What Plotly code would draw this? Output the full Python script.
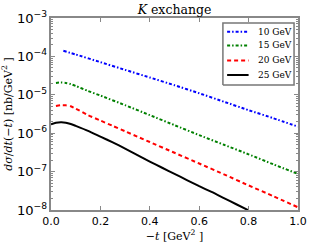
import plotly.graph_objects as go

# -t values [GeV^2] and log10(dσ/dt) values for each beam energy
t_10 = [0.05, 0.10, 0.20, 0.30, 0.40, 0.50, 0.60, 0.70, 0.80, 0.90, 1.00]
log_10 = [-3.855, -3.95, -4.15, -4.35, -4.55, -4.75, -4.96, -5.18, -5.40, -5.61, -5.83]

t_15 = [0.02, 0.04, 0.06, 0.08, 0.10, 0.15, 0.20, 0.30, 0.40, 0.50, 0.60, 0.70, 0.80, 0.90, 1.00]
log_15 = [-4.69, -4.68, -4.69, -4.72, -4.77, -4.90, -5.02, -5.27, -5.53, -5.79, -6.05, -6.30, -6.55, -6.81, -7.06]

t_20 = [0.02, 0.04, 0.06, 0.08, 0.10, 0.15, 0.20, 0.25, 0.30, 0.35, 0.40, 0.50, 0.60, 0.70, 0.80, 0.90, 1.00]
log_20 = [-5.29, -5.27, -5.275, -5.30, -5.36, -5.53, -5.67, -5.81, -5.95, -6.09, -6.23, -6.51, -6.79, -7.07, -7.36, -7.64, -7.93]

t_25 = [0.00, 0.02, 0.04, 0.06, 0.08, 0.10, 0.15, 0.20, 0.25, 0.30, 0.35, 0.40, 0.45, 0.50, 0.55, 0.60, 0.65, 0.70, 0.75, 0.80]
log_25 = [-5.77, -5.73, -5.715, -5.725, -5.76, -5.81, -5.94, -6.09, -6.24, -6.40, -6.57, -6.74, -6.90, -7.06, -7.22, -7.38, -7.53, -7.69, -7.85, -8.01]

labels = ["10 GeV", "15 GeV", "20 GeV", "25 GeV"]
colors = ["#0000ff", "#008000", "#ff0000", "#000000"]
dashes = ["3px,2px,1.5px,2px", "3px,2px,1.5px,2px", "4px,3px", "solid"]

x_ticks = [0.0, 0.2, 0.4, 0.6, 0.8, 1.0]
x_ticktext = ["0.0", "0.2", "0.4", "0.6", "0.8", "1.0"]

series = [(t_10, log_10), (t_15, log_15), (t_20, log_20), (t_25, log_25)]

fig = go.Figure()
for (tx, ly), lab, col, dsh in zip(series, labels, colors, dashes):
    fig.add_trace(go.Scatter(
        x=tx, y=[10 ** v for v in ly], mode="lines", name=lab, showlegend=False,
        line=dict(color=col, width=2, dash=dsh, shape="spline", smoothing=0.6),
    ))

serif = "DejaVu Serif, Liberation Serif, serif"
sans = "DejaVu Sans, sans-serif"

# custom legend (matplotlib-like framed box) drawn on an overlay [0,1] axis pair
leg_x0, leg_x1, leg_y0, leg_y1 = 0.696, 0.984, 0.651, 0.974
row_y = [0.928, 0.857, 0.779, 0.703]
line_x0, line_x1, text_x = 0.713, 0.800, 0.830

fig.add_trace(go.Scatter(
    x=[leg_x0, leg_x1, leg_x1, leg_x0, leg_x0], y=[leg_y0, leg_y0, leg_y1, leg_y1, leg_y0],
    xaxis="x2", yaxis="y2", mode="lines", fill="toself", fillcolor="white",
    line=dict(color="#777777", width=1.5), showlegend=False, hoverinfo="skip",
))
annotations = []
for ry, lab, col, dsh in zip(row_y, labels, colors, dashes):
    fig.add_trace(go.Scatter(
        x=[line_x0, line_x1], y=[ry, ry], xaxis="x2", yaxis="y2", mode="lines",
        line=dict(color=col, width=2, dash=dsh), showlegend=False, hoverinfo="skip",
    ))
    annotations.append(dict(text=lab, xref="paper", yref="paper", x=text_x, y=ry, xanchor="left",
                            yanchor="middle", showarrow=False,
                            font=dict(family=serif, size=9, color="black")))

fig.update_layout(
    width=310, height=247,
    margin=dict(l=51, r=12, t=18, b=37),
    paper_bgcolor="white", plot_bgcolor="white",
    title=dict(text="<i>K</i> exchange", xref="paper", x=0.5, xanchor="center", y=0.962, yanchor="middle",
               font=dict(family=serif, size=12.5, color="black")),
    showlegend=False,
    annotations=annotations,
    xaxis=dict(
        range=[0, 1], tickvals=x_ticks, ticktext=x_ticktext, automargin=False,
        ticks="inside", ticklen=4, tickcolor="#888", mirror="allticks",
        showline=True, linecolor="#888", linewidth=1.5, showgrid=False, zeroline=False,
        tickfont=dict(family=sans, size=11, color="black"),
        title=dict(text="\u2212<i>t</i> [GeV<sup>2</sup> ]", font=dict(family=serif, size=11, color="black"), standoff=2),
    ),
    yaxis=dict(
        type="log", range=[-8, -3], dtick=1, exponentformat="power", automargin=False,
        ticks="inside", ticklen=4, tickcolor="#888", mirror="allticks",
        minor=dict(ticks="inside", ticklen=2, tickcolor="#888", dtick="D1"),
        showline=True, linecolor="#888", linewidth=1.5, showgrid=False, zeroline=False,
        tickfont=dict(family=sans, size=10.5, color="black"),
        title=dict(text="<i>d\u03c3</i>/<i>dt</i>(\u2212<i>t</i>) [nb/GeV<sup>2</sup> ]", font=dict(family=serif, size=11, color="black"), standoff=4),
    ),
    xaxis2=dict(overlaying="x", range=[0, 1], visible=False, automargin=False, fixedrange=True),
    yaxis2=dict(overlaying="y", range=[0, 1], visible=False, automargin=False, fixedrange=True),
)

fig.write_html("out.html", config={"displayModeBar": False},
               post_script="document.body.style.margin='0';document.body.style.overflow='hidden';")
